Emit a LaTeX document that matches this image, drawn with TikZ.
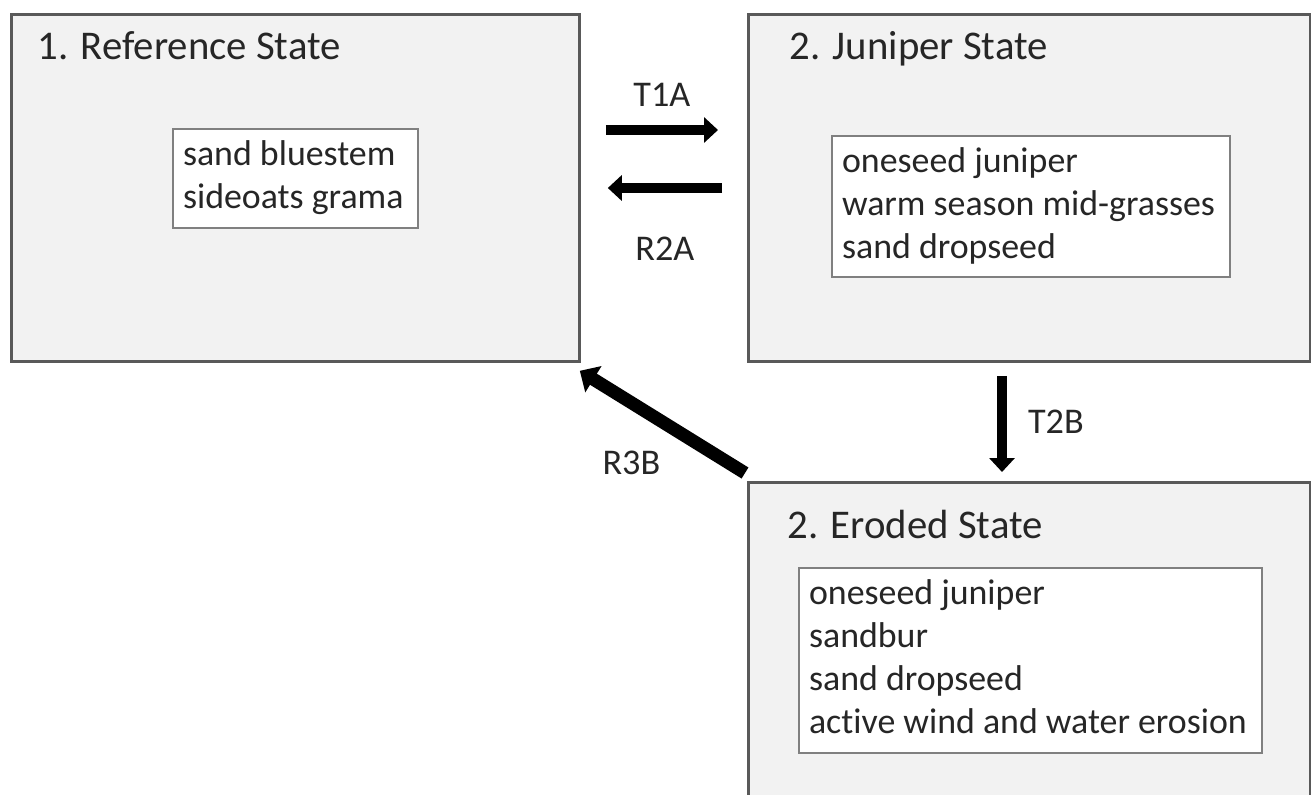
\documentclass[tikz,border=0pt]{standalone}
\usepackage{fontspec}
\setmainfont{Carlito}[Ligatures=NoCommon]
\usetikzlibrary{arrows.meta}
\newcommand{\spplist}[2]{\begin{tabular}{@{}p{#1}@{}}#2\end{tabular}}

\begin{document}
\begin{tikzpicture}[
  statebox/.style={draw=black!65, line width=0.8pt, fill=black!5, anchor=north west, inner sep=0pt},
  listbox/.style={draw=black!50, line width=0.6pt, fill=white, anchor=north west, inner xsep=0.1cm, inner ysep=0pt, font=\fontsize{10.2}{12.2}\selectfont, text=black!85},
  title/.style={anchor=base west, inner sep=0pt, font=\fontsize{11.6}{14}\selectfont, text=black!85},
  lbl/.style={anchor=base, inner sep=0pt, font=\fontsize{10.3}{12}\selectfont, text=black!85},
  flow/.style={line width=0.1cm, -{Triangle[width=0.25cm,length=0.14cm]}}
]
\clip (0,0) rectangle (13.11,-7.94);

\node[statebox, minimum width=5.68cm, minimum height=3.47cm] (ref) at (0.10,-0.13) {};
\node[statebox, minimum width=5.62cm, minimum height=3.47cm] (jun) at (7.47,-0.13) {};
\node[statebox, minimum width=5.62cm, minimum height=3.60cm] (ero) at (7.47,-4.81) {};

\node[title] (reft) at ([shift={(0.27,-0.47)}]ref.north west) {1. Reference State};
\node[title] (junt) at ([shift={(0.42,-0.47)}]jun.north west) {2. Juniper State};
\node[title] (erot) at ([shift={(0.40,-0.57)}]ero.north west) {2. Eroded State};

\node[listbox, minimum height=0.99cm] (refl) at ([shift={(1.62,-1.15)}]ref.north west) {\spplist{2.25cm}{sand bluestem\\sideoats grama}};
\node[listbox, minimum height=1.41cm] (junl) at ([shift={(0.84,-1.22)}]jun.north west) {\spplist{3.78cm}{oneseed juniper\\\mbox{warm season mid-grasses}\\sand dropseed}};
\node[listbox, minimum height=1.85cm] (erol) at ([shift={(0.51,-0.86)}]ero.north west) {\spplist{4.43cm}{oneseed juniper\\sandbur\\sand dropseed\\\mbox{active wind and water erosion}}};

\draw[flow] ([shift={(0.25,-1.17)}]ref.north east) -- node[lbl, yshift=0.23cm] (t1a) {T1A} ([shift={(-0.29,-1.17)}]jun.north west);
\draw[flow] ([shift={(-0.25,-1.75)}]jun.north west) -- node[lbl, yshift=-0.72cm] (r2a) {R2A} ([shift={(0.27,-1.75)}]ref.north east);
\draw[flow] ([shift={(2.55,-0.13)}]jun.south west) -- node[lbl, anchor=base west, xshift=0.21cm, yshift=-0.10cm] (t2b) {T2B} ([shift={(2.55,0.09)}]ero.north west);
\draw[flow, line width=0.13cm, -{Triangle[width=0.3cm,length=0.16cm]}] ([shift={(-0.02,0.08)}]ero.north west) -- node[lbl, xshift=-0.31cm, yshift=-0.525cm] (r3b) {R3B} ([shift={(-0.01,-0.08)}]ref.south east);

\end{tikzpicture}
\end{document}
